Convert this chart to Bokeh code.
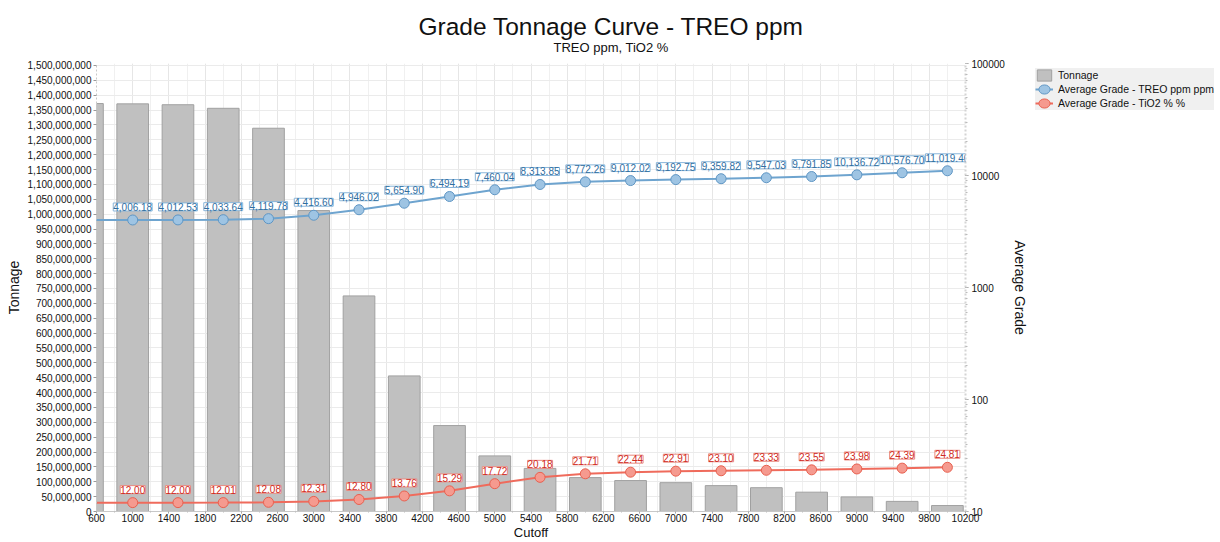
from bokeh.plotting import figure
from bokeh.layouts import row
from bokeh.models import (ColumnDataSource, LabelSet, Range1d, LogAxis, LogScale, Title,
                          LogTicker, FixedTicker, SingleIntervalTicker, NumeralTickFormatter,
                          PrintfTickFormatter, Legend, LegendItem)
from bokeh.core.properties import value
from bokeh.embed import file_html
from bokeh.resources import INLINE

# ---------------- data ----------------
cutoffs = [500, 1000, 1500, 2000, 2500, 3000, 3500, 4000, 4500, 5000,
           5500, 6000, 6500, 7000, 7500, 8000, 8500, 9000, 9500, 10000]
tonnage = [1372e6, 1371e6, 1368e6, 1356e6, 1289e6, 1012e6, 725e6, 456e6, 289e6, 187e6,
           145e6, 114e6, 104e6, 97e6, 87e6, 80e6, 65e6, 49e6, 34e6, 20e6]
treo_grade = [4004.0, 4006.18, 4012.53, 4033.64, 4119.78, 4416.60, 4946.02, 5654.90, 6494.19,
              7460.04, 8313.85, 8772.26, 9012.02, 9192.75, 9359.82, 9547.03, 9791.85,
              10136.72, 10576.70, 11019.40]
tio2_grade = [12.00, 12.00, 12.00, 12.01, 12.08, 12.31, 12.80, 13.76, 15.29, 17.72,
              20.18, 21.71, 22.44, 22.91, 23.10, 23.33, 23.55, 23.98, 24.39, 24.81]
x_ticks = list(range(600, 10201, 400))
x_minor = list(range(600, 10201, 200))

title_text = "Grade Tonnage Curve - TREO ppm"
subtitle_text = "TREO ppm, TiO2 %"
legend_labels = ["Tonnage", "Average Grade - TREO ppm ppm", "Average Grade - TiO2 % %"]

FONT = "Liberation Sans"
BAR_FILL, BAR_LINE = "#c0c0c0", "#a0a0a0"
B_LINE, B_FILL, B_EDGE = "#6ea4cf", "#9ec4e3", "#5f96c4"
R_LINE, R_FILL, R_EDGE = "#ef6b5c", "#f59a8f", "#e8604f"

src = ColumnDataSource(dict(cutoff=cutoffs, tonnage=tonnage, treo=treo_grade, tio2=tio2_grade))
lab_src = ColumnDataSource(dict(
    cutoff=cutoffs[1:],
    treo=treo_grade[1:],
    tio2=tio2_grade[1:],
    treo_txt=[f"{v:,.2f}" for v in treo_grade[1:]],
    tio2_txt=[f"{v:,.2f}" for v in tio2_grade[1:]],
))

p = figure(width=1032, height=542, x_range=Range1d(600, 10200), y_range=Range1d(0, 1.5067e9),
           output_backend="svg", toolbar_location=None,
           min_border_left=96, min_border_right=67, min_border_top=63, min_border_bottom=30)
p.extra_y_ranges = {"grade": Range1d(10, 100000)}
p.extra_y_scales = {"grade": LogScale()}
p.outline_line_color = None
p.background_fill_color = "white"

# titles
p.title.text = title_text
p.title.align = "left"
p.title.offset = 322
p.title.text_font = FONT
p.title.text_font_size = "24.5px"
p.title.text_font_style = "normal"
p.title.text_color = "#111111"
try:
    p.title.standoff = -21
except Exception:
    p.title.standoff = 0
p.add_layout(Title(text=subtitle_text, align="left", offset=457, text_font=FONT, standoff=17,
                   text_font_size="13px", text_font_style="normal", text_color="#111111"), "above")

# axes
p.xaxis.ticker = FixedTicker(ticks=x_ticks, minor_ticks=x_minor)
p.yaxis.ticker = SingleIntervalTicker(interval=50e6, num_minor_ticks=0)
p.yaxis.formatter = NumeralTickFormatter(format="0,0")
p.xaxis.axis_label = "Cutoff"
p.yaxis.axis_label = "Tonnage"

raxis = LogAxis(y_range_name="grade", ticker=LogTicker(num_minor_ticks=10),
                formatter=PrintfTickFormatter(format="%d"), axis_label="Average Grade")
p.add_layout(raxis, "right")

for ax in (p.xaxis[0], p.yaxis[0], raxis):
    ax.major_label_text_font = FONT
    ax.major_label_text_font_size = "10px"
    ax.major_label_text_color = "#111111"
    ax.axis_label_text_font = FONT
    ax.axis_label_text_font_size = "14px"
    ax.axis_label_text_font_style = "normal"
    ax.axis_label_text_color = "#111111"
    ax.axis_label_standoff = 3
    ax.axis_line_color = "#c8c8c8"
    ax.major_tick_line_color = "#999999"
    ax.minor_tick_line_color = "#bbbbbb"
    ax.major_tick_out = 3
    ax.major_tick_in = 0
    ax.minor_tick_out = 2
    ax.minor_tick_in = 0
    ax.major_label_standoff = 2
p.xaxis.axis_label_standoff = 0
p.xaxis.major_label_standoff = 0
p.xaxis.major_tick_out = 2
p.xaxis.minor_tick_out = 1
p.xaxis.axis_label_text_font_size = "13px"
p.yaxis.axis_line_dash = "2 2"
raxis.axis_line_color = "#d4d4d4"
raxis.axis_line_width = 2
raxis.major_label_standoff = 3
raxis.axis_label_standoff = 4

# grids
p.xgrid.grid_line_color = "#e6e6e6"
p.xgrid.minor_grid_line_color = "#f0f0f0"
p.ygrid.grid_line_color = "#ebebeb"

# bars
bars = p.vbar(x="cutoff", top="tonnage", width=350, source=src,
              fill_color=BAR_FILL, line_color=BAR_LINE, line_width=1)

# TREO line
p.line(x="cutoff", y="treo", source=src, y_range_name="grade", line_color=B_LINE, line_width=2)
p.scatter(x="cutoff", y="treo", source=src, y_range_name="grade", size=10,
          fill_color=B_FILL, line_color=B_EDGE, line_width=1)
# TiO2 line
p.line(x="cutoff", y="tio2", source=src, y_range_name="grade", line_color=R_LINE, line_width=2)
p.scatter(x="cutoff", y="tio2", source=src, y_range_name="grade", size=10,
          fill_color=R_FILL, line_color=R_EDGE, line_width=1)

# data labels
has_pad = "padding" in LabelSet.properties()
for col, tcol, tc, bc in (("treo", "treo_txt", "#2f6e9f", "#8ab6da"),
                          ("tio2", "tio2_txt", "#d02a22", "#e98a80")):
    kw = dict(x="cutoff", y=col, text=tcol, source=lab_src, y_range_name="grade",
              y_offset=9, text_align="center", text_baseline="bottom",
              text_font=value(FONT), text_font_size="10px", text_color=tc,
              background_fill_color="white", border_line_color=bc)
    if has_pad:
        kw["padding"] = 2
    p.add_layout(LabelSet(**kw))

# ---------------- legend panel (separate figure to the right) ----------------
lg = figure(width=188, height=542, x_range=Range1d(0, 1), y_range=Range1d(0, 1),
            output_backend="svg", toolbar_location=None, min_border=0)
lg.axis.visible = False
lg.grid.visible = False
lg.outline_line_color = None
# legend glyph renderers (their data lie outside this panel's view)
lb = lg.vbar(x="cutoff", top="tonnage", width=350, source=src,
             fill_color=BAR_FILL, line_color=BAR_LINE)
lbl = lg.line(x="cutoff", y="treo", source=src, line_color=B_LINE, line_width=2)
lbe = lg.ellipse(x="cutoff", y="treo", width=16, height=13, width_units="screen",
                 height_units="screen", source=src, fill_color=B_FILL, line_color=B_EDGE)
lrl = lg.line(x="cutoff", y="tio2", source=src, line_color=R_LINE, line_width=2)
lre = lg.ellipse(x="cutoff", y="tio2", width=16, height=13, width_units="screen",
                 height_units="screen", source=src, fill_color=R_FILL, line_color=R_EDGE)
legend = Legend(items=[LegendItem(label=legend_labels[0], renderers=[lb]),
                       LegendItem(label=legend_labels[1], renderers=[lbl, lbe]),
                       LegendItem(label=legend_labels[2], renderers=[lrl, lre])],
                location=(3, 401), background_fill_color="#f0f0f0",
                background_fill_alpha=1, border_line_color=None,
                label_text_font=FONT, label_text_font_size="10.5px", label_text_color="#111111",
                glyph_width=18, glyph_height=14, label_height=14, spacing=0, padding=3,
                margin=0, label_standoff=5)
lg.add_layout(legend)

layout = row(p, lg, spacing=0)
open("out.html", "w").write(file_html(layout, INLINE))
